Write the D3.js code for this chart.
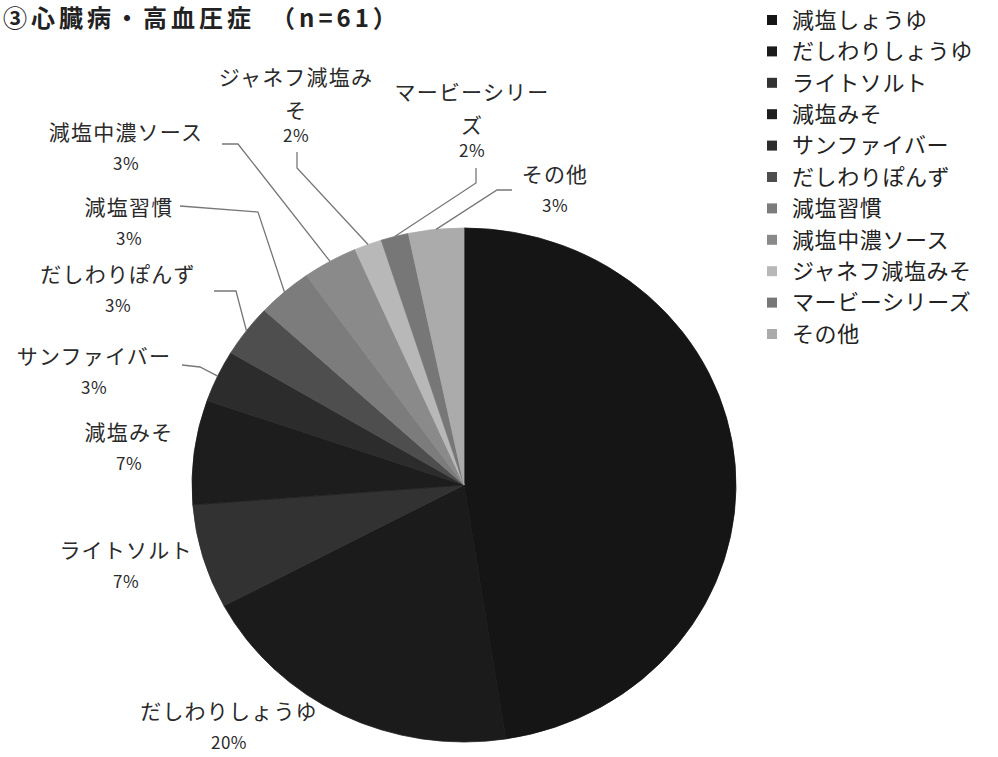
<!DOCTYPE html>
<html><head><meta charset="utf-8">
<script src="https://cdn.jsdelivr.net/npm/d3@7"></script>
<style>
html,body{margin:0;padding:0;background:#fff;}
svg{display:block;font-family:"Noto Sans CJK JP","Noto Sans",sans-serif;}
</style></head>
<body>
<svg id="chart" width="998" height="757"></svg>
<script>
// ---- data ----
const categories = ["減塩しょうゆ","だしわりしょうゆ","ライトソルト","減塩みそ","サンファイバー","だしわりぽんず","減塩習慣","減塩中濃ソース","ジャネフ減塩みそ","マービーシリーズ","その他"];
const counts = [29,12,4,4,2,2,2,2,1,1,2];   // n = 61
const percentLabels = ["48%","20%","7%","7%","3%","3%","3%","3%","2%","2%","3%"];
const labelLines = [["減塩しょうゆ"],["だしわりしょうゆ"],["ライトソルト"],["減塩みそ"],["サンファイバー"],["だしわりぽんず"],["減塩習慣"],["減塩中濃ソース"],["ジャネフ減塩み","そ"],["マービーシリー","ズ"],["その他"]];
const titleText = "③心臓病・高血圧症　（n=61）";

// ---- styling / layout (not data) ----
const colors = ["#151515","#1b1b1b","#323232","#1d1d1d","#2c2c2c","#4e4e4e","#7c7c7c","#8a8a8a","#b8b8b8","#777777","#ababab"];
const labelPos = [null,[229,712],[126,551],[129,433],[94,357],[118,275],[129,208],[126,133],[296,78],[472,93],[555,175]];
// leader line elbow points per category
const leaderPts = [null,null,null,null,[[200,367],[182,365]],[[236,291],[214,291]],[[258,212],[180,206]],[[238,144],[222,144]],[[297,168],[297,152]],[[476,183],[476,168]],[[497,190],[512,190]]];

const svg = d3.select("#chart");
const cx = 464, cy = 485, rx = 272, ry = 257;
const sy = ry/rx;

svg.append("text").attr("x",3).attr("y",27).attr("font-size",24).attr("font-weight","bold")
  .attr("letter-spacing",4).attr("fill","#222").text(titleText);

const pie = d3.pie().sort(null).value(d=>d)(counts);
const arc = d3.arc().innerRadius(0).outerRadius(rx);

const g = svg.append("g").attr("transform",`translate(${cx},${cy}) scale(1,${sy})`);
g.selectAll("path").data(pie).join("path")
  .attr("d",arc).attr("fill",(d,i)=>colors[i])
  .attr("stroke",(d,i)=>colors[i]).attr("stroke-width",0.8).attr("stroke-linejoin","round");

// leader lines
pie.forEach((d,i)=>{
  if(!leaderPts[i]) return;
  const a = (d.startAngle+d.endAngle)/2;
  const p0 = [cx + rx*Math.sin(a), cy - ry*Math.cos(a)];
  const pts = [p0].concat(leaderPts[i]);
  svg.append("path").attr("d", d3.line()(pts)).attr("fill","none")
    .attr("stroke","#777").attr("stroke-width",1.3);
});

// labels
pie.forEach((d,i)=>{
  if(!labelPos[i]) return;
  const [x,y] = labelPos[i];
  const t = svg.append("text").attr("text-anchor","middle").attr("fill","#2a2a2a");
  const lines = labelLines[i];
  lines.forEach((s,k)=>{
    t.append("tspan").attr("x",x).attr("y",y + k*33).attr("dy","0.35em")
      .attr("font-size",21).attr("letter-spacing",1.2).text(s);
  });
  t.append("tspan").attr("x",x).attr("y",y + lines.length*31 + (lines.length>1?-4:0)).attr("dy","0.35em")
    .attr("font-size",17).attr("letter-spacing",0.5).text(percentLabels[i]);
});

// legend
const lg = svg.append("g");
categories.forEach((c,i)=>{
  const y = 20 + i*31.4;
  lg.append("rect").attr("x",767).attr("y",y-5).attr("width",10).attr("height",10).attr("fill",colors[i]);
  lg.append("text").attr("x",792).attr("y",y).attr("dy","0.35em").attr("font-size",22)
    .attr("letter-spacing",0.6).attr("fill","#222").text(c);
});
</script>
</body></html>
